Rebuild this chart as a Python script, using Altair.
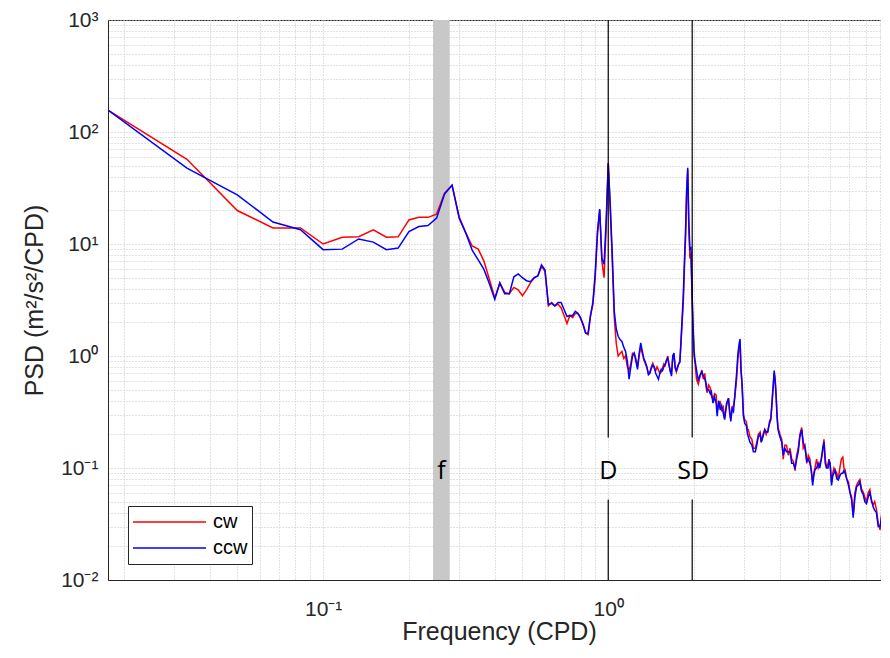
import altair as alt
import pandas as pd

# ---------------- data ----------------
freq = [
    0.0176, 0.0333, 0.05, 0.0667, 0.0833, 0.1, 0.1167, 0.1333, 0.15, 0.1667,
    0.1833, 0.2, 0.2167, 0.2333, 0.25, 0.2667, 0.2833, 0.3, 0.3167, 0.3333,
    0.35, 0.3667, 0.3833, 0.4, 0.4167, 0.4333, 0.45, 0.4667, 0.4833, 0.5,
    0.5167, 0.5333, 0.55, 0.5667, 0.5833, 0.6, 0.6167, 0.6333, 0.65, 0.6667,
    0.6833, 0.7, 0.7167, 0.7333, 0.75, 0.7667, 0.7833, 0.8, 0.8167, 0.8333,
    0.85, 0.8667, 0.8833, 0.9, 0.9167, 0.9333, 0.95, 0.9667, 0.9833, 1.0,
    1.0167, 1.0333, 1.05, 1.0667, 1.0833, 1.1, 1.1167, 1.1333, 1.15, 1.1667,
    1.1833, 1.2, 1.2167, 1.2333, 1.25, 1.2667, 1.2833, 1.3, 1.3167, 1.3333,
    1.35, 1.3667, 1.3833, 1.4, 1.4167, 1.4333, 1.45, 1.4667, 1.4833, 1.5,
    1.5167, 1.5333, 1.55, 1.5667, 1.5833, 1.6, 1.6167, 1.6333, 1.65, 1.6667,
    1.6833, 1.7, 1.7167, 1.7333, 1.75, 1.7667, 1.7833, 1.8, 1.8167, 1.8333,
    1.85, 1.8667, 1.8833, 1.9, 1.9167, 1.9333, 1.95, 1.9667, 1.9833, 2.0,
    2.015, 2.04, 2.07, 2.10, 2.13, 2.155, 2.18, 2.20, 2.22, 2.25,
    2.28, 2.30, 2.33, 2.36, 2.39, 2.41, 2.44, 2.47, 2.50, 2.53,
    2.56, 2.60, 2.64, 2.665, 2.69, 2.72, 2.75, 2.78, 2.82, 2.85,
    2.88, 2.90, 2.92, 2.95, 2.98, 3.01, 3.05, 3.08, 3.10, 3.14,
    3.19, 3.23, 3.28, 3.32, 3.36, 3.41, 3.44, 3.49, 3.54, 3.58,
    3.63, 3.68, 3.72, 3.76, 3.79, 3.82, 3.85, 3.88, 3.91, 3.94,
    4.00, 4.06, 4.11, 4.16, 4.22, 4.28, 4.34, 4.40, 4.46, 4.52,
    4.58, 4.64, 4.70, 4.77, 4.83, 4.90, 4.97, 5.03, 5.10, 5.16,
    5.21, 5.26, 5.31, 5.38, 5.45, 5.52, 5.59, 5.65, 5.71, 5.77,
    5.83, 5.90, 5.95, 6.00, 6.07, 6.13, 6.19, 6.25, 6.33, 6.41,
    6.49, 6.57, 6.65, 6.71, 6.77, 6.86, 6.96, 7.05, 7.14, 7.23,
    7.33, 7.43, 7.53, 7.63, 7.73, 7.84, 7.94, 8.05, 8.16, 8.27,
    8.38, 8.49, 8.60, 8.72, 8.85, 8.98, 9.11, 9.24, 9.37, 9.50,
    9.58, 9.66,
]

cw = [
    157, 57, 19.9, 13.9, 13.9, 10.0, 11.5, 11.6, 13.4, 11.5,
    11.6, 16.4, 17.3, 17.3, 18.5, 28.5, 33.5, 17.5, 12.5, 9.6,
    9.0, 7.0, 4.8, 3.3, 4.5, 3.7, 3.6, 4.1, 3.9, 3.45,
    3.9, 4.5, 5.0, 5.2, 6.3, 5.7, 2.8, 3.0, 2.8, 2.9,
    2.7, 2.3, 1.95, 2.3, 2.2, 2.4, 2.4, 2.15, 1.9, 1.6,
    1.55, 2.3, 2.9, 5.0, 12, 20, 7.0, 5.0, 14, 53,
    20, 7.0, 2.2, 1.3, 1.0, 1.05, 1.1, 0.95, 1.0, 0.8,
    0.75, 0.85, 1.06, 1.05, 0.95, 0.8, 1.0, 1.2, 1.05, 0.92,
    0.85, 0.78, 0.7, 0.72, 0.8, 0.86, 0.78, 0.74, 0.8, 0.75,
    0.7, 0.72, 0.78, 0.85, 0.82, 0.9, 1.0, 0.85, 0.72, 0.7,
    0.95, 1.05, 0.8, 0.72, 0.78, 0.85, 0.9, 1.3, 2.0, 3.0,
    6.0, 11, 28, 46, 14, 7.7, 8.0, 3.5, 1.8, 1.0,
    0.87, 0.62, 0.56, 0.66, 0.75, 0.62, 0.70, 0.55, 0.47, 0.55,
    0.52, 0.44, 0.41, 0.46, 0.45, 0.32, 0.38, 0.39, 0.33, 0.35,
    0.28, 0.36, 0.42, 0.31, 0.27, 0.35, 0.36, 0.43, 0.62, 0.95,
    1.2, 1.3, 0.82, 0.5, 0.30, 0.27, 0.26, 0.22, 0.22, 0.19,
    0.18, 0.15, 0.15, 0.17, 0.2, 0.21, 0.17, 0.2, 0.22, 0.2,
    0.22, 0.25, 0.27, 0.4, 0.53, 0.7, 0.62, 0.45, 0.3, 0.23,
    0.2, 0.18, 0.12, 0.16, 0.16, 0.13, 0.15, 0.12, 0.115, 0.095,
    0.13, 0.15, 0.2, 0.23, 0.15, 0.16, 0.11, 0.13, 0.12, 0.09,
    0.075, 0.09, 0.1, 0.12, 0.1, 0.11, 0.12, 0.14, 0.18, 0.12,
    0.1, 0.11, 0.12, 0.11, 0.075, 0.09, 0.1, 0.095, 0.09, 0.079,
    0.1, 0.12, 0.125, 0.1, 0.097, 0.08, 0.075, 0.06, 0.055, 0.038,
    0.06, 0.07, 0.075, 0.079, 0.065, 0.061, 0.055, 0.05, 0.06, 0.064,
    0.05, 0.047, 0.05, 0.043, 0.032, 0.028, 0.04, 0.047, 0.04, 0.035,
    0.042, 0.04,
]

ccw = [
    157, 47.5, 27.5, 15.7, 13.4, 8.9, 9.0, 11.1, 10.4, 8.9,
    9.2, 12.9, 14.3, 14.6, 17.0, 28.0, 33.5, 17.0, 12.5, 8.8,
    7.2, 5.9, 4.4, 3.2, 4.5, 3.6, 3.6, 5.1, 5.4, 5.0,
    4.7, 4.6, 5.0, 5.2, 6.5, 5.9, 2.9, 2.95, 2.8, 3.0,
    3.0, 2.6, 2.25, 2.3, 2.3, 2.5, 2.4, 2.2, 1.9, 1.6,
    1.6, 2.3, 3.0, 5.5, 13, 20.5, 7.4, 6.6, 16, 52,
    22, 8.0, 2.5, 1.75, 1.5, 1.4, 1.35, 1.2, 1.1, 0.9,
    0.62, 0.8, 1.0, 1.06, 0.9, 0.76, 1.05, 1.31, 1.1, 0.95,
    0.88, 0.8, 0.68, 0.7, 0.78, 0.83, 0.8, 0.7, 0.66, 0.62,
    0.7, 0.76, 0.74, 0.8, 0.84, 0.92, 0.96, 0.82, 0.75, 0.66,
    1.0, 1.06, 0.78, 0.74, 0.8, 0.85, 0.88, 1.4, 2.2, 3.5,
    7.0, 13, 30, 48, 16, 9.0, 9.2, 4.0, 1.9, 1.1,
    0.92, 0.75, 0.6, 0.68, 0.72, 0.66, 0.63, 0.58, 0.5, 0.5,
    0.46, 0.48, 0.38, 0.43, 0.38, 0.29, 0.4, 0.33, 0.36, 0.31,
    0.27, 0.38, 0.42, 0.33, 0.26, 0.34, 0.32, 0.45, 0.7, 1.05,
    1.3, 1.42, 0.75, 0.55, 0.29, 0.25, 0.24, 0.2, 0.19, 0.17,
    0.16, 0.14, 0.14, 0.16, 0.19, 0.2, 0.17, 0.19, 0.22, 0.21,
    0.21, 0.26, 0.28, 0.42, 0.55, 0.74, 0.6, 0.43, 0.28, 0.22,
    0.19, 0.17, 0.13, 0.15, 0.14, 0.14, 0.14, 0.11, 0.11, 0.1,
    0.12, 0.14, 0.19, 0.22, 0.17, 0.15, 0.115, 0.12, 0.11, 0.095,
    0.07, 0.085, 0.097, 0.1, 0.11, 0.1, 0.12, 0.15, 0.17, 0.11,
    0.1, 0.1, 0.115, 0.11, 0.07, 0.085, 0.09, 0.095, 0.08, 0.078,
    0.085, 0.09, 0.09, 0.095, 0.09, 0.08, 0.07, 0.06, 0.052, 0.036,
    0.055, 0.068, 0.07, 0.075, 0.062, 0.058, 0.05, 0.048, 0.055, 0.06,
    0.052, 0.045, 0.042, 0.04, 0.03, 0.03, 0.038, 0.045, 0.037, 0.033,
    0.038, 0.039,
]

series_names = ["cw", "ccw"]
series_colors = ["#ff0000", "#0000ff"]

# marker lines (diurnal, semidiurnal) and inertial band
marker_freq = [1.0, 1.97]
band_lo = [0.243]
band_hi = [0.278]
label_text = ["f", "D", "SD"]
label_freq = [0.26, 1.0, 1.985]
label_psd = [0.094, 0.094, 0.094]

# the reference plot runs to the right edge of the picture; keep the same
# pixels-per-decade and end the visible x range where the page ends
x_domain = [0.0176, 9.05]
y_domain = [0.01, 1000]

# ---------------- tables ----------------
rows = []
for f, a, b in zip(freq, cw, ccw):
    rows.append({"freq": f, "psd": a, "series": "cw"})
    rows.append({"freq": f, "psd": b, "series": "ccw"})
df = pd.DataFrame(rows)

# rules split around the label boxes
gap_lo, gap_hi = 0.0523, 0.187
rule_rows = []
for m in marker_freq:
    rule_rows.append({"freq": m, "y0": y_domain[0], "y1": gap_lo})
    rule_rows.append({"freq": m, "y0": gap_hi, "y1": y_domain[1]})
rules_df = pd.DataFrame(rule_rows)

band_df = pd.DataFrame({"lo": band_lo, "hi": band_hi,
                        "y0": [y_domain[0]], "y1": [y_domain[1]]})
labels_df = pd.DataFrame({"freq": label_freq, "psd": label_psd, "txt": label_text})

# ---------------- axes ----------------
def minor_vals(lo_exp, hi_exp):
    out = []
    for e in range(lo_exp, hi_exp + 1):
        for m in range(1, 10):
            out.append(round(m * 10.0 ** e, 6))
    return out

xvals = [v for v in minor_vals(-2, 0) if x_domain[0] <= v <= x_domain[1]]
yvals = [v for v in minor_vals(-2, 3) if y_domain[0] <= v <= y_domain[1]]

sup = {-2: "10⁻²", -1: "10⁻¹", 0: "10⁰", 1: "10¹", 2: "10²", 3: "10³"}


def label_expr(exps):
    expr = "''"
    for e in exps:
        v = 10.0 ** e
        expr = f"abs(datum.value/{v}-1)<1e-6 ? '{sup[e]}' : ({expr})"
    return expr


FONT = "Liberation Sans"
TXT = "#262626"
GRID = "#c4c4c4"

common_axis = dict(
    grid=True, gridDash=[1, 2], gridColor=GRID, gridWidth=1,
    ticks=False, domainColor=TXT, domainWidth=1,
    labelFont=FONT, labelFontSize=21, labelColor=TXT,
    titleFont=FONT, titleFontWeight="normal", titleColor=TXT,
    labelOverlap=False, labelFlush=False,
)

x_enc = alt.X("freq:Q",
              scale=alt.Scale(type="log", domain=x_domain, nice=False),
              axis=alt.Axis(values=xvals, labelExpr=label_expr([-1, 0]),
                            title="Frequency (CPD)", labelPadding=18,
                            titlePadding=0, titleX=391, titleFontSize=25,
                            **common_axis))
y_enc = alt.Y("psd:Q",
              scale=alt.Scale(type="log", domain=y_domain, nice=False),
              axis=alt.Axis(values=yvals, labelExpr=label_expr([-2, -1, 0, 1, 2, 3]),
                            title="PSD (m²/s²/CPD)", labelPadding=10,
                            titlePadding=13, titleFontSize=25, **common_axis))

color_enc = alt.Color(
    "series:N",
    scale=alt.Scale(domain=series_names, range=series_colors),
    legend=alt.Legend(
        title=None, orient="none", legendX=20, legendY=486,
        symbolType="stroke", symbolSize=5329, symbolStrokeWidth=1.4,
        clipHeight=24, rowPadding=2, padding=4, labelOffset=6,
        labelFont=FONT, labelFontSize=20, labelColor="black",
        strokeColor=TXT, fillColor="white", cornerRadius=0,
    ),
)

band = alt.Chart(band_df).mark_rect(color="#c8c8c8").encode(
    x=alt.X("lo:Q", scale=alt.Scale(type="log", domain=x_domain, nice=False)),
    x2="hi:Q",
    y=alt.Y("y0:Q", scale=alt.Scale(type="log", domain=y_domain, nice=False)),
    y2="y1:Q",
)

base = alt.Chart(df).mark_line(strokeWidth=1.5, clip=True).encode(
    x=x_enc, y=y_enc, color=color_enc
)
line_cw = base.transform_filter(alt.datum.series == "cw")
line_ccw = base.transform_filter(alt.datum.series == "ccw")

rules = alt.Chart(rules_df).mark_rule(color="black", strokeWidth=1.2).encode(
    x="freq:Q", y="y0:Q", y2="y1:Q"
)

labels = alt.Chart(labels_df).mark_text(
    font="Open Sans", fontSize=25, color="black", baseline="middle", align="center"
).encode(x="freq:Q", y="psd:Q", text="txt:N")

chart = alt.layer(band, line_cw, line_ccw, rules, labels).properties(
    width=773, height=560,
    padding={"left": 100, "top": 12, "right": 0, "bottom": 68},
    autosize=alt.AutoSizeParams(type="none"),
    background="white",
).configure_view(stroke=TXT, strokeWidth=1)

chart.save("out.html", embed_options={"renderer": "svg", "actions": False})
